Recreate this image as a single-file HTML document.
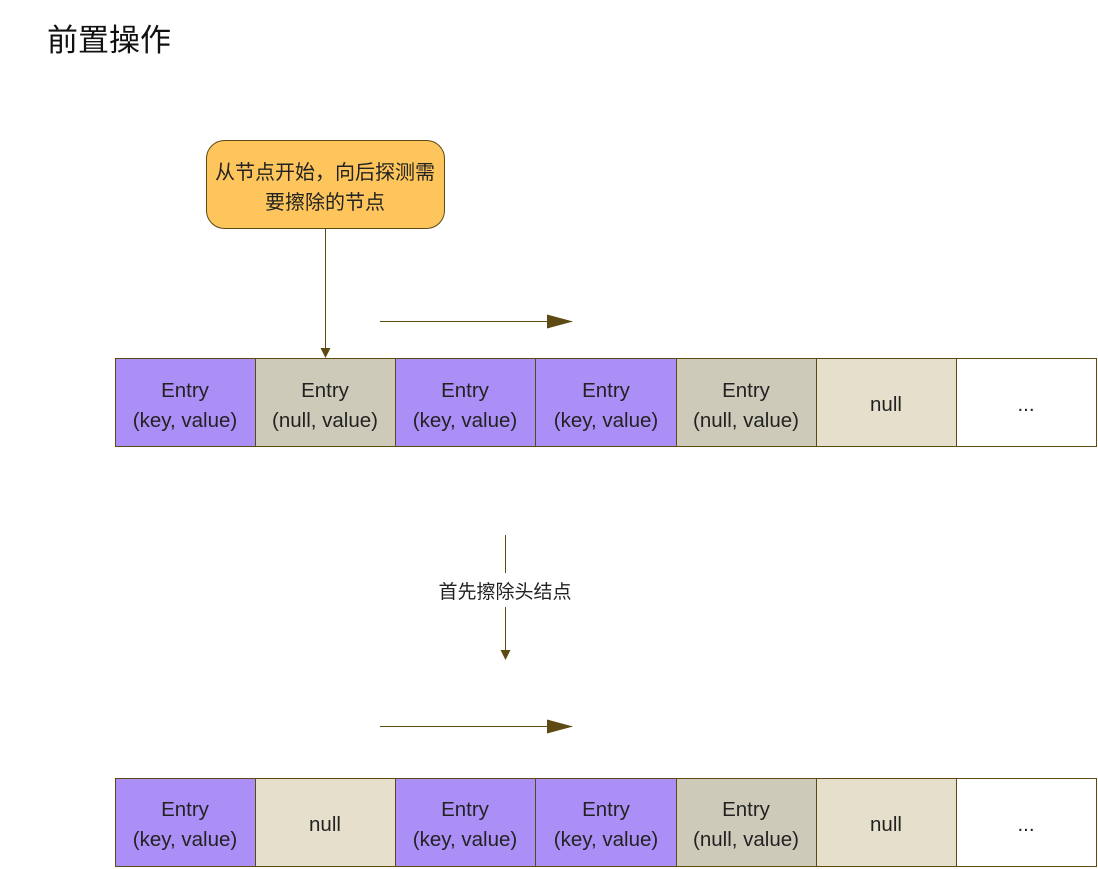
<!DOCTYPE html>
<html><head><meta charset="utf-8"><style>
html,body{margin:0;padding:0;background:#fff;width:1098px;height:869px;overflow:hidden}
svg text{font-family:"Liberation Sans","Noto Sans CJK SC",sans-serif;fill:#222}
</style></head><body>
<svg width="1098" height="869" viewBox="0 0 1098 869" xmlns="http://www.w3.org/2000/svg">
<defs>
<marker id="a" markerWidth="10" markerHeight="10" refX="9" refY="5" orient="auto" markerUnits="userSpaceOnUse"><path d="M0,0 L10,5 L0,10 Z" fill="#5c4a12"/></marker>
<marker id="b" markerWidth="26" markerHeight="14" refX="25" refY="7" orient="auto" markerUnits="userSpaceOnUse"><path d="M0,0 L26,7 L0,14 Z" fill="#5c4a12"/></marker>
</defs>
<text x="47" y="51" font-size="31" style="fill:#111">前置操作</text>
<rect x="206.5" y="140.5" width="238" height="88" rx="18" fill="#fec55c" stroke="#5c4a12"/>
<text x="325" y="179" font-size="20" text-anchor="middle">从节点开始，向后探测需</text>
<text x="325" y="209" font-size="20" text-anchor="middle">要擦除的节点</text>
<line x1="325.5" y1="229" x2="325.5" y2="357" stroke="#5c4a12" marker-end="url(#a)"/>
<line x1="380" y1="321.5" x2="572" y2="321.5" stroke="#5c4a12" marker-end="url(#b)"/>
<line x1="380" y1="726.5" x2="572" y2="726.5" stroke="#5c4a12" marker-end="url(#b)"/>
<line x1="505.5" y1="535" x2="505.5" y2="573" stroke="#5c4a12"/>
<line x1="505.5" y1="607" x2="505.5" y2="659" stroke="#5c4a12" marker-end="url(#a)"/>
<text x="505" y="598" font-size="19" text-anchor="middle">首先擦除头结点</text>
<g stroke="#5c4a12" stroke-width="1">
<rect x="115.5" y="358.5" width="140" height="88" fill="#ab8ff7"/>
<rect x="255.5" y="358.5" width="140" height="88" fill="#cdcaba"/>
<rect x="395.5" y="358.5" width="140" height="88" fill="#ab8ff7"/>
<rect x="535.5" y="358.5" width="141" height="88" fill="#ab8ff7"/>
<rect x="676.5" y="358.5" width="140" height="88" fill="#cdcaba"/>
<rect x="816.5" y="358.5" width="140" height="88" fill="#e6dfcc"/>
<rect x="956.5" y="358.5" width="140" height="88" fill="#fff"/>
<rect x="115.5" y="778.5" width="140" height="88" fill="#ab8ff7"/>
<rect x="255.5" y="778.5" width="140" height="88" fill="#e6dfcc"/>
<rect x="395.5" y="778.5" width="140" height="88" fill="#ab8ff7"/>
<rect x="535.5" y="778.5" width="141" height="88" fill="#ab8ff7"/>
<rect x="676.5" y="778.5" width="140" height="88" fill="#cdcaba"/>
<rect x="816.5" y="778.5" width="140" height="88" fill="#e6dfcc"/>
<rect x="956.5" y="778.5" width="140" height="88" fill="#fff"/>
</g>
<g font-size="20.5" text-anchor="middle">
<text x="185" y="397">Entry</text><text x="185" y="427">(key, value)</text>
<text x="325" y="397">Entry</text><text x="325" y="427">(null, value)</text>
<text x="465" y="397">Entry</text><text x="465" y="427">(key, value)</text>
<text x="606" y="397">Entry</text><text x="606" y="427">(key, value)</text>
<text x="746" y="397">Entry</text><text x="746" y="427">(null, value)</text>
<text x="886" y="411">null</text>
<text x="1026" y="411">...</text>
<text x="185" y="816">Entry</text><text x="185" y="846">(key, value)</text>
<text x="325" y="831">null</text>
<text x="465" y="816">Entry</text><text x="465" y="846">(key, value)</text>
<text x="606" y="816">Entry</text><text x="606" y="846">(key, value)</text>
<text x="746" y="816">Entry</text><text x="746" y="846">(null, value)</text>
<text x="886" y="831">null</text>
<text x="1026" y="831">...</text>
</g>
</svg>
</body></html>
